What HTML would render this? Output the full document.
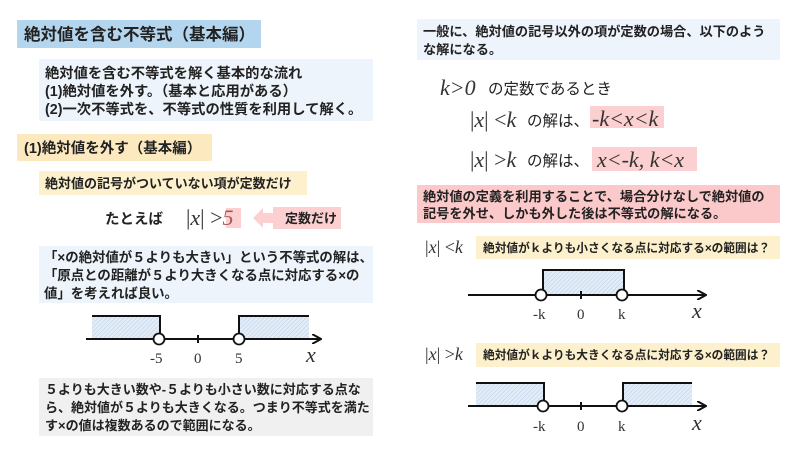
<!DOCTYPE html>
<html><head><meta charset="utf-8"><style>
body{margin:0;background:#fff;}
svg text{font-family:"Liberation Sans","Noto Sans CJK JP",sans-serif;fill:#222;}
svg .m, svg .m text, svg text.m{font-family:"Liberation Serif","Noto Serif CJK SC",serif;fill:#333;}
svg .b, svg .b text{font-weight:bold;}
</style></head><body>
<svg width="800" height="450" viewBox="0 0 800 450" xmlns="http://www.w3.org/2000/svg">
<defs>
<pattern id="h" width="3" height="3" patternUnits="userSpaceOnUse" patternTransform="rotate(45)">
<rect width="3" height="3" fill="#e3edf8"/><line x1="0" y1="0" x2="0" y2="3" stroke="#b8cde6" stroke-width="1"/>
</pattern>
<marker id="ar" markerWidth="10" markerHeight="10" refX="8" refY="5" orient="auto" markerUnits="userSpaceOnUse">
<path d="M0,0 L9,5 L0,10" fill="none" stroke="#111" stroke-width="2"/></marker>
</defs>
<!-- left -->
<rect x="17" y="20" width="244" height="28" fill="#b4d5ee"/>
<text x="24" y="40" font-size="16.5" class="b">絶対値を含む不等式（基本編）</text>
<rect x="39" y="59" width="334" height="62" fill="#eef4fb"/>
<g font-size="14.3" class="b"><text x="45" y="78">絶対値を含む不等式を解く基本的な流れ</text>
<text x="45" y="96">(1)絶対値を外す。（基本と応用がある）</text>
<text x="45" y="114">(2)一次不等式を、不等式の性質を利用して解く。</text></g>
<rect x="17" y="134" width="195" height="27" fill="#fde9bf"/>
<text x="24" y="153" font-size="14.5" class="b">(1)絶対値を外す（基本編）</text>
<rect x="39" y="171" width="268" height="24" fill="#fdf0cc"/>
<text x="45" y="188" font-size="13" class="b">絶対値の記号がついていない項が定数だけ</text>
<text x="105" y="224" font-size="14.5" class="b">たとえば</text>
<rect x="226" y="208" width="15" height="20" fill="#fccfd0"/>
<text x="186" y="225" font-size="22" class="m">|<tspan font-style="italic">x</tspan>| &gt;<tspan font-style="italic" fill="#a55">5</tspan></text>
<path d="M253,218 L263,208 L263,213 L273,213 L273,223 L263,223 L263,228 Z" fill="#fccfd0"/>
<rect x="273" y="207" width="68" height="22" fill="#fccfd0"/>
<text x="285" y="223" font-size="13" class="b">定数だけ</text>
<rect x="39" y="246" width="334" height="57" fill="#eef4fb"/>
<g font-size="13.4" class="b"><text x="44" y="262">「×の絶対値が５よりも大きい」という不等式の解は、</text>
<text x="44" y="280">「原点との距離が５より大きくなる点に対応する×の</text>
<text x="44" y="298">値」を考えれば良い。</text></g>
<rect x="92" y="316" width="67" height="23" fill="url(#h)"/>
<rect x="239" y="316" width="70" height="23" fill="url(#h)"/>
<path d="M92,316 H160 V339 M239,339 V316 H309" fill="none" stroke="#111" stroke-width="2"/>
<line x1="86" y1="339" x2="320" y2="339" stroke="#111" stroke-width="2" marker-end="url(#ar)"/>
<line x1="198" y1="335" x2="198" y2="343" stroke="#111" stroke-width="2"/>
<circle cx="159" cy="339" r="5.5" fill="#fff" stroke="#111" stroke-width="1.8"/>
<circle cx="239" cy="339" r="5.5" fill="#fff" stroke="#111" stroke-width="1.8"/>
<g font-size="15" class="m"><text x="150" y="363">-5</text><text x="194" y="363">0</text><text x="235" y="363">5</text>
<text x="306" y="362" font-size="22" font-style="italic">x</text></g>
<rect x="39" y="378" width="334" height="58" fill="#f0f0f0"/>
<g font-size="13" class="b"><text x="45" y="394">５よりも大きい数や-５よりも小さい数に対応する点な</text>
<text x="45" y="412">ら、絶対値が５よりも大きくなる。つまり不等式を満た</text>
<text x="45" y="430">す×の値は複数あるので範囲になる。</text></g>
<!-- right -->
<rect x="417" y="19" width="363" height="41" fill="#eef4fb"/>
<g font-size="13.2" class="b"><text x="423" y="36">一般に、絶対値の記号以外の項が定数の場合、以下のよう</text>
<text x="423" y="54">な解になる。</text></g>
<text x="440" y="95" font-size="22" class="m" font-style="italic">k&gt;0</text>
<text x="488" y="94" font-size="15.5" fill="#444">の定数であるとき</text>
<rect x="590" y="106" width="74" height="22" fill="#fccfd0"/>
<text x="470" y="127" font-size="22" class="m">|<tspan font-style="italic">x</tspan>| &lt;<tspan font-style="italic">k</tspan></text>
<text x="527" y="126" font-size="15.5" fill="#444">の解は、</text>
<text x="592" y="126" font-size="22" class="m" font-style="italic" fill="#844">-k&lt;x&lt;k</text>
<rect x="592" y="147" width="105" height="24" fill="#fccfd0"/>
<text x="470" y="167" font-size="22" class="m">|<tspan font-style="italic">x</tspan>| &gt;<tspan font-style="italic">k</tspan></text>
<text x="527" y="166" font-size="15.5" fill="#444">の解は、</text>
<text x="597" y="167" font-size="22" class="m" font-style="italic" fill="#844">x&lt;-k,  k&lt;x</text>
<rect x="417" y="185" width="363" height="38" fill="#fcc9ca"/>
<g font-size="13.2" class="b"><text x="423" y="201">絶対値の定義を利用することで、場合分けなしで絶対値の</text>
<text x="423" y="218">記号を外せ、しかも外した後は不等式の解になる。</text></g>
<text x="425" y="253" font-size="18" class="m">|<tspan font-style="italic">x</tspan>| &lt;<tspan font-style="italic">k</tspan></text>
<rect x="476" y="236" width="304" height="23" fill="#fdf0cc"/>
<text x="483" y="252" font-size="11.7" class="b">絶対値がｋよりも小さくなる点に対応する×の範囲は？</text>
<rect x="543" y="270" width="81" height="25" fill="url(#h)"/>
<path d="M543,295 V270 H624 V295" fill="none" stroke="#111" stroke-width="2"/>
<line x1="468" y1="295" x2="705" y2="295" stroke="#111" stroke-width="2" marker-end="url(#ar)"/>
<line x1="581" y1="291" x2="581" y2="299" stroke="#111" stroke-width="2"/>
<circle cx="541" cy="295" r="5.5" fill="#fff" stroke="#111" stroke-width="1.8"/>
<circle cx="622" cy="295" r="5.5" fill="#fff" stroke="#111" stroke-width="1.8"/>
<g font-size="15" class="m"><text x="533" y="319">-k</text><text x="577" y="319">0</text><text x="618" y="319">k</text>
<text x="692" y="318" font-size="22" font-style="italic">x</text></g>
<text x="425" y="360" font-size="18" class="m">|<tspan font-style="italic">x</tspan>| &gt;<tspan font-style="italic">k</tspan></text>
<rect x="476" y="343" width="304" height="24" fill="#fdf0cc"/>
<text x="483" y="359" font-size="11.7" class="b">絶対値がｋよりも大きくなる点に対応する×の範囲は？</text>
<rect x="476" y="383" width="67" height="23" fill="url(#h)"/>
<rect x="623" y="383" width="69" height="23" fill="url(#h)"/>
<path d="M476,383 H544 V406 M623,406 V383 H692" fill="none" stroke="#111" stroke-width="2"/>
<line x1="468" y1="406" x2="705" y2="406" stroke="#111" stroke-width="2" marker-end="url(#ar)"/>
<line x1="581" y1="402" x2="581" y2="410" stroke="#111" stroke-width="2"/>
<circle cx="543" cy="406" r="5.5" fill="#fff" stroke="#111" stroke-width="1.8"/>
<circle cx="622" cy="406" r="5.5" fill="#fff" stroke="#111" stroke-width="1.8"/>
<g font-size="15" class="m"><text x="533" y="431">-k</text><text x="577" y="431">0</text><text x="618" y="431">k</text>
<text x="692" y="430" font-size="22" font-style="italic">x</text></g>
</svg>
</body></html>
